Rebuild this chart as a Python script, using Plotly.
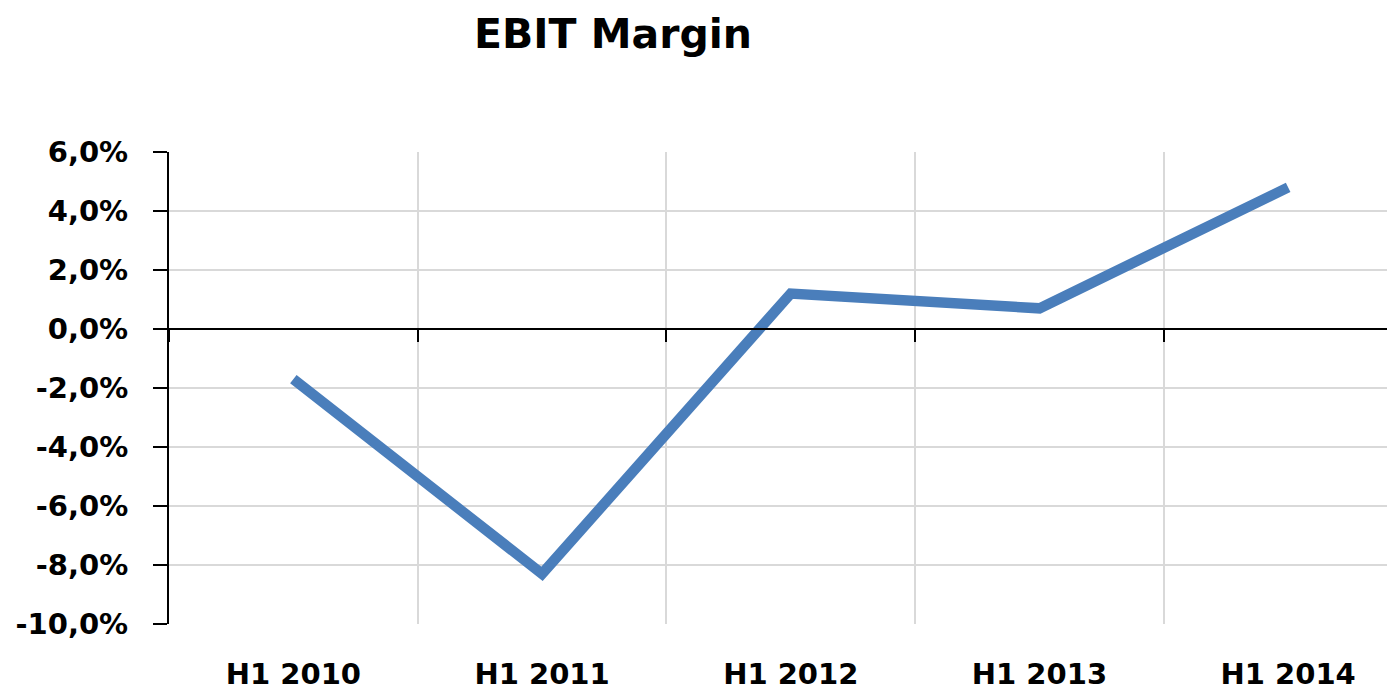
import plotly.graph_objects as go

categories = ["H1 2010", "H1 2011", "H1 2012", "H1 2013", "H1 2014"]
ebit_margin = [-1.7, -8.3, 1.2, 0.7, 4.8]
y_tickvals = [6, 4, 2, 0, -2, -4, -6, -8, -10]
y_ticktext = ["6,0%", "4,0%", "2,0%", "0,0%", "-2,0%", "-4,0%", "-6,0%", "-8,0%", "-10,0%"]

FONT = "DejaVu Sans"
W, H = 1387, 686
L, T, B, R = 161, 144, 70, 0
xr = [-0.5, -0.5 + (W - R - L) / 248.7]

fig = go.Figure()
fig.add_trace(go.Scatter(
    x=categories, y=ebit_margin, mode="lines",
    line=dict(color="#4A7EBB", width=10.5), showlegend=False, hoverinfo="skip"))
fig.add_trace(go.Scatter(
    x=categories, y=ebit_margin, xaxis="x2", mode="lines",
    line=dict(width=0), opacity=0, showlegend=False, hoverinfo="skip"))

fig.update_layout(
    width=W, height=H,
    margin=dict(l=L, r=R, t=T, b=B, autoexpand=False),
    paper_bgcolor="white", plot_bgcolor="white",
    title=dict(text="<b>EBIT Margin</b>", font=dict(family=FONT, size=41, color="black"),
               x=605 / W, xref="container", xanchor="center",
               y=1 - 26 / H, yref="container", yanchor="middle"),
    xaxis=dict(type="category", categoryorder="array", categoryarray=categories,
               range=xr, tickson="boundaries", showgrid=True, gridcolor="#D9D9D9",
               gridwidth=2, ticks="", showline=False, zeroline=False, automargin=False,
               tickfont=dict(family=FONT, size=29, color="black", weight="bold"),
               ticklabelstandoff=30),
    xaxis2=dict(type="category", categoryorder="array", categoryarray=categories,
                range=xr, overlaying="x", anchor="free", position=10 / 16,
                tickson="boundaries", ticks="outside", ticklen=12, tickwidth=2,
                tickcolor="black", showline=True, linecolor="black", linewidth=2,
                showticklabels=False, showgrid=False, zeroline=False, automargin=False),
    yaxis=dict(range=[-10, 6], tickvals=y_tickvals, ticktext=y_ticktext,
               showgrid=True, gridcolor="#D9D9D9", gridwidth=2,
               showline=True, linecolor="black", linewidth=2,
               ticks="outside", ticklen=14, tickwidth=2, tickcolor="black",
               zeroline=False, automargin=False,
               tickfont=dict(family=FONT, size=29, color="black", weight="bold"),
               ticklabelstandoff=19),
)

fig.write_html("out.html")
